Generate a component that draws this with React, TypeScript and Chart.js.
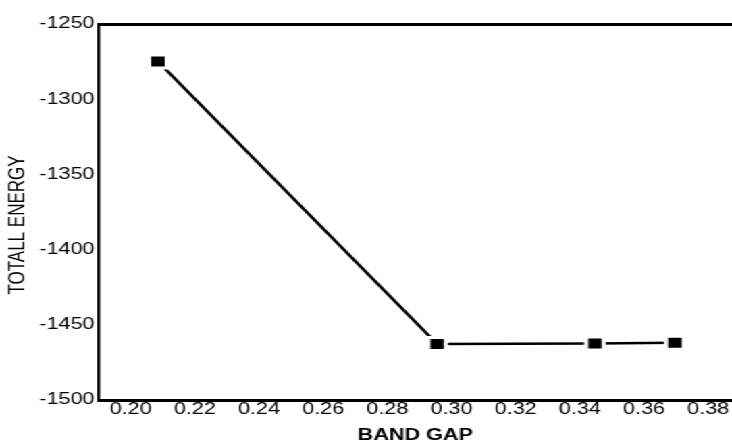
import React, { useEffect, useRef } from 'react';
import { Chart, registerables } from 'chart.js';

Chart.register(...registerables);

// ---- data ----
const bandGap = [0.2085, 0.2955, 0.3447, 0.3696];
const totalEnergy = [-1274.9, -1462.8, -1462.5, -1461.9];
const xTickValues = [0.2, 0.22, 0.24, 0.26, 0.28, 0.3, 0.32, 0.34, 0.36, 0.38];
const yTickValues = [-1500, -1450, -1400, -1350, -1300, -1250];
const xTitle = 'BAND GAP';
const yTitle = 'TOTALL ENERGY';

// ---- layout ----
const W = 542;
const H = 445;
const SX = 732 / W;
const FONT = '"Liberation Sans", Arial, Helvetica, sans-serif';

const yTitlePlugin = {
  id: 'yTitlePlugin',
  afterDraw(chart: any) {
    const ctx = chart.ctx;
    const a = chart.chartArea;
    ctx.save();
    ctx.translate(13.8, (a.top + a.bottom) / 2 + 13);
    ctx.rotate(-Math.PI / 2);
    ctx.font = `17px ${FONT}`;
    ctx.fillStyle = '#000';
    ctx.textAlign = 'center';
    ctx.textBaseline = 'middle';
    ctx.fillText(yTitle, 0, 0);
    ctx.restore();
  },
};

const noPad = (s: any) => {
  s.paddingLeft = 0;
  s.paddingRight = 0;
  s.paddingTop = 0;
  s.paddingBottom = 0;
};

export default function App() {
  const ref = useRef<HTMLCanvasElement | null>(null);

  useEffect(() => {
    if (!ref.current) return;
    Chart.defaults.font.family = FONT;
    const xMin = 0.19;
    const xMax = 0.3874;
    const chart = new Chart(ref.current, {
      type: 'scatter',
      data: {
        datasets: [
          {
            data: bandGap.map((x, i) => ({ x, y: totalEnergy[i] })),
            showLine: true,
            borderColor: '#000',
            borderWidth: 2.5,
            pointStyle: 'rect',
            pointRadius: 9.2,
            pointHoverRadius: 9.2,
            pointBackgroundColor: '#000',
            pointBorderColor: '#fff',
            pointBorderWidth: 3,
            pointHoverBorderWidth: 3,
            xAxisID: 'x',
            yAxisID: 'y',
          },
        ],
      },
      options: {
        animation: false,
        responsive: false,
        devicePixelRatio: 1,
        events: [],
        layout: { autoPadding: false, padding: { top: 24, left: 0, right: 0, bottom: 0 } },
        plugins: { legend: { display: false }, tooltip: { enabled: false } },
        scales: {
          x: {
            type: 'linear',
            position: 'bottom',
            min: xMin,
            max: xMax,
            afterBuildTicks: (s: any) => {
              s.ticks = xTickValues.map((v) => ({ value: v }));
            },
            afterFit: (s: any) => {
              s.height = 45;
              noPad(s);
            },
            ticks: {
              callback: (v: any) => Number(v).toFixed(2),
              color: '#000',
              font: { size: 16 },
              padding: 0,
              maxRotation: 0,
              autoSkip: false,
            },
            grid: { display: false, drawTicks: false },
            border: { display: true, color: '#000', width: 3 },
            title: {
              display: true,
              text: xTitle,
              color: '#000',
              font: { size: 16, weight: 'bold' },
              padding: { top: 0, bottom: 0 },
            },
          },
          xTop: {
            type: 'linear',
            position: 'top',
            min: xMin,
            max: xMax,
            afterFit: (s: any) => {
              s.height = 0;
              noPad(s);
            },
            ticks: { display: false },
            grid: { display: false, drawTicks: false },
            border: { display: true, color: '#000', width: 3 },
          },
          y: {
            type: 'linear',
            position: 'left',
            min: -1500,
            max: -1250,
            afterBuildTicks: (s: any) => {
              s.ticks = yTickValues.map((v) => ({ value: v }));
            },
            afterFit: (s: any) => {
              s.width = 73;
              noPad(s);
            },
            ticks: {
              callback: (v: any) => String(v),
              color: '#000',
              font: { size: 16 },
              padding: 3,
              autoSkip: false,
            },
            grid: { display: false, drawTicks: false },
            border: { display: true, color: '#000', width: 2.2 },
          },
        },
      },
      plugins: [yTitlePlugin],
    } as any);
    return () => chart.destroy();
  }, []);

  return (
    <div
      style={{
        position: 'fixed',
        left: 0,
        top: 0,
        width: W,
        height: H,
        background: '#fff',
        transform: `scaleX(${SX})`,
        transformOrigin: '0 0',
      }}
    >
      <canvas ref={ref} width={W} height={H} style={{ display: 'block' }} />
    </div>
  );
}
